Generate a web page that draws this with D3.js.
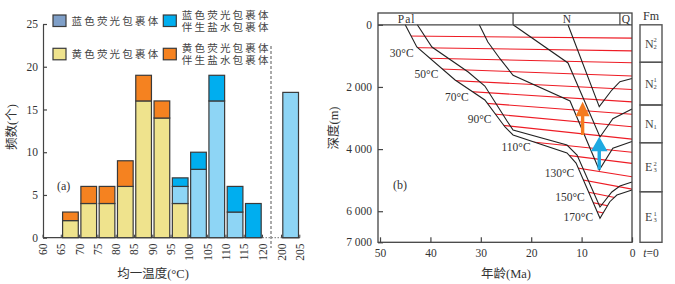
<!DOCTYPE html>
<html>
<head>
<meta charset="utf-8">
<script src="https://cdn.jsdelivr.net/npm/d3@7"></script>
<style>
body { margin: 0; background: #fff; }
svg { font-family: "Liberation Serif", "Noto Sans CJK SC", serif; }
</style>
</head>
<body>
<svg id="fig" width="675" height="284"></svg>
<script>
// ---------- (a) homogenization temperature histogram ----------
var binStart = [65, 70, 75, 80, 85, 90, 95, 100, 105, 110, 115, 200];
var yellowFl = [2, 4, 4, 6, 16, 14, 4, 0, 0, 0, 0, 0];
var blueFl = [0, 0, 0, 0, 0, 0, 2, 8, 16, 3, 0, 17];
var yellowBrine = [1, 2, 2, 3, 3, 2, 0, 0, 0, 0, 0, 0];
var blueBrine = [0, 0, 0, 0, 0, 0, 1, 2, 3, 3, 4, 0];
var tempTicks = [60, 65, 70, 75, 80, 85, 90, 95, 100, 105, 110, 115, 120, 200, 205];
var countTicks = [0, 5, 10, 15, 20, 25];
var legendLabel = [["蓝色荧光包裹体"], ["蓝色荧光包裹体", "伴生盐水包裹体"],
                   ["黄色荧光包裹体"], ["黄色荧光包裹体", "伴生盐水包裹体"]];
var legendKey = ["blueLegend", "blueBrine", "yellowFl", "yellowBrine"];

// ---------- (b) burial history ----------
var ageTicks = [50, 40, 30, 20, 10, 0];
var depthTicks = [0, 2000, 4000, 6000, 7000];
// [age Ma, depth m]
var burialH1 = [[12.7, 0], [6.5, 2636], [4.0, 2099], [2.4, 1831], [0, 1728]];
var burialH2 = [[23.6, 0], [12.7, 1229], [6.35, 3611], [3.8, 3022], [0, 2710]];
var burialH3 = [[30.3, 0], [28.6, 554], [26.2, 1091], [23.6, 1625], [12.3, 2452], [6.5, 4673], [3.8, 3975], [0, 3756]];
var burialH4 = [[42.6, 0], [39.7, 714], [32.5, 1519], [29.2, 1970], [24.8, 3096], [23.6, 3386], [12.9, 3869], [10.9, 4191], [6.35, 5864], [4.0, 5381], [2.4, 5188], [0, 5060]];
var burialH5 = [[45.0, 0], [42.7, 714], [35.1, 1777], [29.2, 2420], [25.2, 3289], [23.6, 3547], [12.9, 4126], [11.1, 4448], [6.35, 6228], [4.4, 5694], [3.0, 5478], [0, 5317]];
var isoTemp = [20, 30, 40, 50, 60, 70, 80, 90, 100, 110, 120, 130, 140, 150, 160, 170];
var isoDepth45 = [360, 730, 1060, 1380, 1720, 2020, 2330, 2610, 2900, 3350, 3550, 3720, 3930, 4190, 4450, 4710];
var isoDepth0 = [430, 840, 1220, 1650, 2080, 2480, 2880, 3280, 3680, 4100, 4460, 4890, 5290, 5670, 5990, 6250];
var isoLabelTemp = [30, 50, 70, 90, 110, 130, 150, 170];
var periodName = ["Pal", "N", "Q"];
var periodEnd = [23.6, 2.4];
var periodLabelAge = [44.7, 12.9, 1.2];
var fmBase = ["N", "N", "N", "E", "E"];
var fmSub = ["2", "2", "1", "3", "3"];
var fmSup = ["2", "1", "", "2", "1"];
var fmTop = [0, 1207, 2581, 3795, 5372];
var fmBottom = [1207, 2581, 3795, 5372, 7000];
var arrowAge = [9.8, 6.5];
var arrowFrom = [3547, 4657];
var arrowTo = [2475, 3602];

var colors = {
    yellowFl: "#efe38d",
    yellowBrine: "#f58220",
    blueFl: "#8ed5f5",
    blueBrine: "#00aeef",
    blueLegend: "#7f9fc8"
};
var ink = "#3a3a3a";

var svg = d3.select("#fig");

// ======================= panel (a) =======================
var xA = d3.scaleLinear().domain([60, 120, 200, 205]).range([43, 262.5, 281.5, 299.8]);
var yA = d3.scaleLinear().domain([0, 25]).range([237.7, 24]);

var ga = svg.append("g");

// x axis pieces (broken between 120 and 200)
ga.append("line").attr("x1", xA(60)).attr("x2", xA(120)).attr("y1", yA(0)).attr("y2", yA(0))
    .attr("stroke", "#444").attr("stroke-width", 1.2);
ga.append("line").attr("x1", xA(120)).attr("x2", xA(200)).attr("y1", yA(0)).attr("y2", yA(0))
    .attr("stroke", "#777").attr("stroke-width", 1).attr("stroke-dasharray", "1.5,1.5");
ga.append("line").attr("x1", xA(200)).attr("x2", xA(205)).attr("y1", yA(0)).attr("y2", yA(0))
    .attr("stroke", "#444").attr("stroke-width", 1.2);
ga.selectAll(".xt").data(tempTicks).enter().append("line")
    .attr("x1", function (d) { return xA(d); })
    .attr("x2", function (d) { return xA(d); })
    .attr("y1", yA(0)).attr("y2", yA(0) - 3)
    .attr("stroke", "#444");
ga.selectAll(".xl").data(tempTicks).enter().append("text")
    .attr("transform", function (d) { return "translate(" + xA(d) + "," + 243.5 + ") rotate(-90)"; })
    .attr("text-anchor", "end").attr("dy", ".35em")
    .attr("font-size", 11.5).attr("fill", "#333")
    .text(function (d) { return d; });

// break marker
ga.append("line")
    .attr("x1", (xA(120) + xA(200)) / 2 - 1).attr("x2", (xA(120) + xA(200)) / 2 - 1)
    .attr("y1", 46).attr("y2", 248)
    .attr("stroke", "#555").attr("stroke-width", 1).attr("stroke-dasharray", "3,2");

// y axis
var axA = ga.append("g").attr("transform", "translate(" + xA(60) + ",0)")
    .call(d3.axisLeft(yA).tickValues(countTicks).tickSizeInner(-4).tickSizeOuter(0).tickPadding(5));
axA.attr("font-size", null).attr("font-family", null);
axA.selectAll("text").attr("font-size", 11.5).attr("fill", "#333");
axA.selectAll("line,path").attr("stroke", "#444").attr("stroke-width", 1.2);

// stacked bars
var rows = binStart.map(function (b, i) {
    return { bin: b, yellowFl: yellowFl[i], blueFl: blueFl[i], yellowBrine: yellowBrine[i], blueBrine: blueBrine[i] };
});
var series = d3.stack().keys(["yellowFl", "blueFl", "yellowBrine", "blueBrine"])(rows);
series.forEach(function (s) {
    ga.selectAll(null)
        .data(s.filter(function (d) { return d[1] > d[0]; }))
        .enter()
        .append("rect")
        .attr("x", function (d) { return xA(d.data.bin) + 1.3; })
        .attr("width", function (d) { return xA(d.data.bin + 5) - xA(d.data.bin) - 2.6; })
        .attr("y", function (d) { return yA(d[1]); })
        .attr("height", function (d) { return yA(d[0]) - yA(d[1]); })
        .attr("fill", colors[s.key])
        .attr("stroke", ink).attr("stroke-width", 1.2);
});

// legend
legendLabel.forEach(function (lines, i) {
    var col = i % 2, row = Math.floor(i / 2);
    var bx = 53 + col * 110.3, by = 15 + row * 33.3;
    ga.append("rect").attr("x", bx).attr("y", by).attr("width", 13).attr("height", 11.5)
        .attr("fill", colors[legendKey[i]]).attr("stroke", ink).attr("stroke-width", 1.2);
    lines.forEach(function (t, j) {
        var cy = by + 5.75 + (lines.length === 1 ? 0 : (j === 0 ? -6 : 6));
        ga.append("text").attr("x", bx + 18.5).attr("y", cy).attr("dy", ".36em")
            .attr("font-size", 10.5).attr("letter-spacing", 2.2).attr("fill", "#444")
            .text(t);
    });
});

ga.append("text").attr("x", 57).attr("y", 190).attr("font-size", 12).attr("fill", "#333").text("(a)");
ga.append("text").attr("x", 153).attr("y", 278).attr("text-anchor", "middle")
    .attr("font-size", 12.5).attr("fill", "#333").text("均一温度(°C)");
ga.append("text").attr("transform", "translate(12,127) rotate(-90)").attr("text-anchor", "middle")
    .attr("dy", ".35em").attr("font-size", 12.5).attr("fill", "#333").text("频数(个)");

// ======================= panel (b) =======================
var xB = d3.scaleLinear().domain([50.4, 0]).range([378, 632]);
var yB = d3.scaleLinear().domain([0, 7000]).range([24.8, 242.3]);
var headerTop = 13;
var gb = svg.append("g");

var lineGen = d3.line()
    .x(function (d) { return xB(d[0]); })
    .y(function (d) { return yB(d[1]); });

// clip region: sediment column above the deepest horizon
var clipPts = burialH5.map(function (d) { return [xB(d[0]), yB(d[1])]; });
clipPts.push([xB(0), yB(0)]);
clipPts.push([xB(burialH5[0][0]), yB(0)]);
gb.append("clipPath").attr("id", "sedClip").append("polygon")
    .attr("points", clipPts.map(function (p) { return p.join(","); }).join(" "));

// isotherms
var isoLines = isoTemp.map(function (t, i) { return [[45, isoDepth45[i]], [0, isoDepth0[i]]]; });
gb.append("g").attr("clip-path", "url(#sedClip)")
    .selectAll("path").data(isoLines).enter().append("path")
    .attr("d", lineGen)
    .attr("fill", "none").attr("stroke", "#ee1c25").attr("stroke-width", 1.1);

// burial curves
var horizons = [burialH1, burialH2, burialH3, burialH4, burialH5];
gb.selectAll(".hz").data(horizons).enter().append("path")
    .attr("d", lineGen)
    .attr("fill", "none").attr("stroke", "#222").attr("stroke-width", 1.1);

// isotherm labels at their intersection with the deepest horizon
function crossing(iso) {
    var ax = xB(iso[0][0]), ay = yB(iso[0][1]), bx = xB(iso[1][0]), by = yB(iso[1][1]);
    function yIso(x) { return ay + (by - ay) * (x - ax) / (bx - ax); }
    for (var k = 0; k < burialH5.length - 1; k++) {
        var p = [xB(burialH5[k][0]), yB(burialH5[k][1])];
        var q = [xB(burialH5[k + 1][0]), yB(burialH5[k + 1][1])];
        var d1 = yIso(p[0]) - p[1], d2 = yIso(q[0]) - q[1];
        if (d1 >= 0 && d2 < 0) {
            var t = d1 / (d1 - d2);
            var x = p[0] + t * (q[0] - p[0]);
            return [x, yIso(x)];
        }
    }
    return null;
}
isoLabelTemp.forEach(function (t) {
    var i = isoTemp.indexOf(t);
    var c = crossing(isoLines[i]);
    if (!c) return;
    gb.append("text").attr("x", c[0] - 4).attr("y", c[1] + 5).attr("dy", ".35em")
        .attr("text-anchor", "end").attr("font-size", 11.5).attr("fill", "#333")
        .text(t + "°C");
});

// arrows (inclusion trapping)
var arrowColors = ["#f47b20", "#1fa9e1"];
arrowAge.forEach(function (a, i) {
    var x = xB(a), y0 = yB(arrowFrom[i]), y1 = yB(arrowTo[i]);
    var hw = i === 0 ? 7 : 8.3, hl = 14.5, sw = 1.7;
    var pts = [[x - sw, y0], [x - sw, y1 + hl], [x - hw, y1 + hl], [x, y1], [x + hw, y1 + hl], [x + sw, y1 + hl], [x + sw, y0]];
    gb.append("polygon").attr("points", pts.map(function (p) { return p.join(","); }).join(" "))
        .attr("fill", arrowColors[i]);
});

// frame + period header
var frameStroke = "#444";
gb.append("rect").attr("x", xB(50.4)).attr("y", headerTop).attr("width", xB(0) - xB(50.4))
    .attr("height", yB(7000) - headerTop).attr("fill", "none")
    .attr("stroke", frameStroke).attr("stroke-width", 1.3);
gb.append("line").attr("x1", xB(50.4)).attr("x2", xB(0)).attr("y1", yB(0)).attr("y2", yB(0))
    .attr("stroke", frameStroke).attr("stroke-width", 1.3);
periodEnd.forEach(function (a) {
    gb.append("line").attr("x1", xB(a)).attr("x2", xB(a)).attr("y1", headerTop).attr("y2", yB(0))
        .attr("stroke", frameStroke).attr("stroke-width", 1.2);
});
periodName.forEach(function (n, i) {
    gb.append("text").attr("x", xB(periodLabelAge[i])).attr("y", (headerTop + yB(0)) / 2).attr("dy", ".35em")
        .attr("text-anchor", "middle").attr("font-size", 11.5).attr("fill", "#333")
        .attr("letter-spacing", n === "Pal" ? 1 : 0).text(n);
});

// axes
function depthFmt(d) { return d === 0 ? "0" : d3.format(",")(d).replace(",", " "); }
var ayB = gb.append("g").attr("transform", "translate(" + xB(50.4) + ",0)")
    .call(d3.axisLeft(yB).tickValues(depthTicks).tickFormat(depthFmt).tickSizeInner(-5).tickSizeOuter(0).tickPadding(6));
ayB.attr("font-size", null).attr("font-family", null);
ayB.select(".domain").remove();
ayB.selectAll("line").attr("stroke", frameStroke).attr("stroke-width", 1.2);
ayB.selectAll("text").attr("font-size", 11.5).attr("fill", "#333");

var axB = gb.append("g").attr("transform", "translate(0," + yB(7000) + ")")
    .call(d3.axisBottom(xB).tickValues(ageTicks).tickSizeInner(-5).tickSizeOuter(0).tickPadding(7));
axB.attr("font-size", null).attr("font-family", null);
axB.select(".domain").remove();
axB.selectAll("line").attr("stroke", frameStroke).attr("stroke-width", 1.2);
axB.selectAll("text").attr("font-size", 11.5).attr("fill", "#333");

gb.append("text").attr("x", 393).attr("y", 189).attr("font-size", 12).attr("fill", "#333").text("(b)");
gb.append("text").attr("x", 506).attr("y", 278).attr("text-anchor", "middle")
    .attr("font-size", 12.5).attr("fill", "#333").text("年龄(Ma)");
gb.append("text").attr("transform", "translate(334,128) rotate(-90)").attr("text-anchor", "middle")
    .attr("dy", ".35em").attr("font-size", 12.5).attr("fill", "#333").text("深度(m)");

// formation column
var fmX0 = 640, fmX1 = 662;
var gf = svg.append("g");
fmBase.forEach(function (b, i) {
    var y0 = yB(fmTop[i]), y1 = yB(fmBottom[i]);
    gf.append("rect").attr("x", fmX0).attr("y", y0).attr("width", fmX1 - fmX0).attr("height", y1 - y0)
        .attr("fill", "none").attr("stroke", "#555").attr("stroke-width", 1.4);
    var cy = (y0 + y1) / 2;
    gf.append("text").attr("x", 645).attr("y", cy).attr("dy", ".35em")
        .attr("font-size", 12).attr("fill", "#444").text(b);
    if (fmSup[i]) {
        gf.append("text").attr("x", 653.5).attr("y", cy - 1.5).attr("font-size", 6.5).attr("fill", "#444").text(fmSup[i]);
    }
    gf.append("text").attr("x", 653.5).attr("y", cy + 5).attr("font-size", 6.5).attr("fill", "#444").text(fmSub[i]);
});
gf.append("text").attr("x", 651).attr("y", 20).attr("text-anchor", "middle")
    .attr("font-size", 12).attr("fill", "#333").text("Fm");
var t0 = gf.append("text").attr("x", 651).attr("y", 257).attr("text-anchor", "middle")
    .attr("font-size", 11.5).attr("fill", "#333");
t0.append("tspan").attr("font-style", "italic").text("t");
t0.append("tspan").text("=0");
</script>
</body>
</html>
